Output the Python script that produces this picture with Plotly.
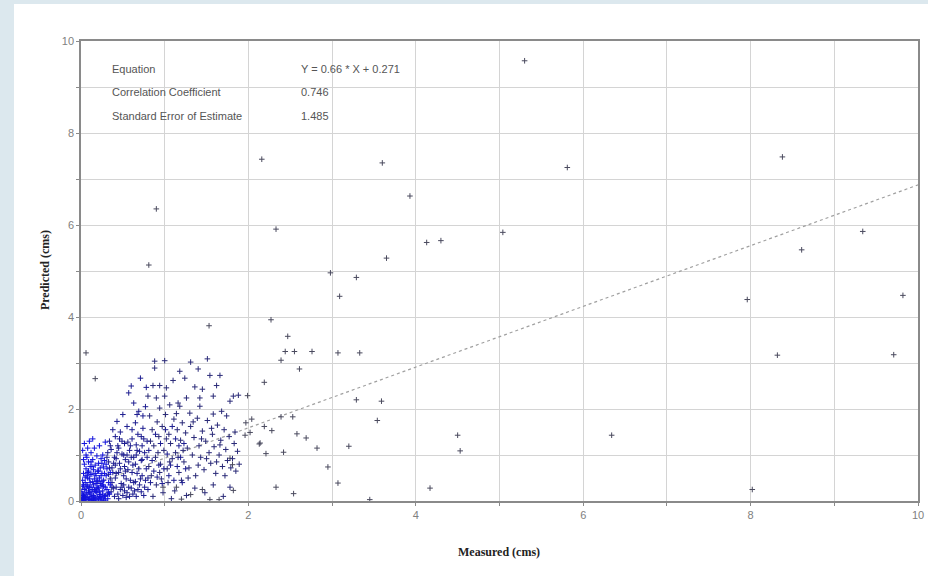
import plotly.graph_objects as go

# ---------------- data ----------------
# dense core near the origin (measured, predicted)
core_x = [0.02,0.03,0.05,0.04,0.06,0.07,0.08,0.09,0.10,0.11,0.12,0.13,0.14,0.15,0.16,0.17,0.18,0.19,0.20,0.21,0.22,0.23,0.24,0.25,0.26,0.27,0.28,0.29,0.30,
          0.02,0.03,0.04,0.05,0.06,0.07,0.08,0.09,0.10,0.11,0.12,0.13,0.14,0.15,0.16,0.17,0.18,0.19,0.20,0.21,0.22,0.23,0.24,0.25,0.26,0.27,0.28,0.29,0.30,
          0.01,0.01,0.02,0.03,0.04,0.05,0.06,0.07,0.08,0.09,0.10,0.11,0.12,0.13,0.14,0.15,0.16,0.17,0.18,0.19,0.20,0.21,0.22,0.23,0.24,0.25,0.26,0.27,0.28,0.29,0.31,0.32,0.33,0.34,0.35,
          0.02,0.03,0.04,0.06,0.08,0.10,0.12,0.14,0.05,0.07,0.09,0.11,0.13,0.15,0.17,0.19,0.21,0.23,0.25,0.27,0.29,0.31,0.33,0.35,
          0.01,0.02,0.03,0.04,0.06,0.08,0.10,0.12,0.14,0.16,0.18,0.20,0.22,0.24,0.26]
core_y = [0.05,0.12,0.02,0.25,0.18,0.35,0.08,0.22,0.04,0.15,0.30,0.06,0.42,0.12,0.25,0.05,0.38,0.18,0.09,0.28,0.50,0.14,0.33,0.06,0.22,0.45,0.10,0.30,0.55,
          0.45,0.60,0.80,0.52,0.70,0.95,0.62,0.85,0.48,0.75,1.05,0.58,0.90,0.68,1.15,0.78,0.55,0.98,0.65,0.82,1.20,0.72,0.92,0.60,1.00,0.74,0.88,1.28,0.80,
          0.02,0.20,0.32,0.02,0.10,0.40,0.04,0.15,0.50,0.03,0.30,0.58,0.10,0.20,0.02,0.35,0.48,0.22,0.02,0.42,0.30,0.04,0.20,0.38,0.08,0.42,0.15,0.02,0.60,0.12,0.25,0.05,0.40,0.15,0.62,
          1.10,0.90,1.25,1.00,1.15,1.30,0.85,1.35,0.08,0.55,0.65,0.40,0.75,0.02,0.60,0.28,0.65,0.02,0.82,0.32,0.02,0.70,0.18,0.35,
          0.08,0.15,0.35,0.05,0.28,0.32,0.18,0.02,0.25,0.08,0.20,0.45,0.10,0.55,0.35]

# spreading cluster 0.3 < measured < 1.25
mid_x = [0.32,0.33,0.34,0.35,0.36,0.37,0.38,0.39,0.40,0.41,0.42,0.43,0.44,0.45,0.46,0.47,0.48,0.49,0.50,0.51,0.52,0.53,0.54,0.55,0.56,0.57,0.58,0.59,0.60,0.61,0.62,0.63,0.64,0.65,0.66,0.67,0.68,0.69,0.70,0.71,0.72,0.73,0.74,0.75,0.76,0.77,0.78,0.79,0.80,
         0.36,0.40,0.45,0.50,0.55,0.58,0.62,0.38,0.42,0.44,0.47,0.49,0.52,0.56,0.60,0.63,0.66,0.70,0.73,0.76,0.34,0.37,0.41,0.46,0.51,0.54,0.57,0.61,0.65,0.68,0.72,0.78,0.74,0.67,
         0.31,0.33,0.35,0.37,0.39,0.41,0.43,0.45,0.47,0.49,0.51,0.53,0.55,0.57,0.59,0.61,0.63,0.65,0.67,0.69,0.71,0.73,0.75,0.77,0.79,0.81,0.83,0.85,0.87,0.89,0.91,0.93,0.95,0.97,0.99,1.01,1.03,1.05,1.07,1.09,1.11,1.13,1.15,1.17,1.19,1.21,1.23,1.25,
         0.32,0.42,0.52,0.60,0.66,0.72,0.80]
mid_y = [1.05,0.85,1.30,0.48,1.12,0.72,1.55,0.28,0.95,1.40,0.60,1.73,0.15,1.15,0.82,1.50,0.38,1.02,1.88,0.55,1.25,0.90,0.08,1.62,0.68,2.35,1.10,0.45,2.50,1.35,0.78,2.13,0.22,1.70,1.00,0.60,1.45,1.95,0.35,2.67,0.88,1.20,1.58,0.12,1.05,2.05,0.70,1.30,0.50,
         0.20,0.10,0.05,0.12,0.18,0.10,0.15,0.62,0.92,1.20,0.70,0.30,0.75,1.28,0.95,0.40,1.22,1.08,0.55,0.30,0.72,0.40,0.78,1.35,1.00,0.48,0.85,1.55,0.80,0.25,1.40,2.47,1.85,1.88,
         0.95,0.58,1.20,0.30,0.82,0.50,1.05,0.62,0.25,1.30,0.35,0.65,1.00,0.30,1.20,0.62,0.95,0.42,1.10,0.70,0.48,0.90,1.35,0.45,0.95,1.10,0.40,0.88,0.65,1.45,0.52,0.78,1.25,0.38,0.70,1.55,1.02,0.55,0.78,1.62,0.45,1.35,0.75,1.20,0.95,0.40,1.25,0.70,
         0.15,0.30,0.22,0.28,0.10,0.20,0.25]

# outer part of the cluster 0.8 < measured < 1.9
outer_x = [0.88,1.00,0.88,1.18,1.31,1.40,1.51,1.54,1.66,1.62,1.45,1.36,1.24,1.10,1.02,0.94,0.86,0.80,0.90,1.00,1.16,1.26,1.42,1.58,1.82,1.88,1.78,1.68,1.58,1.42,1.30,1.18,1.06,0.94,
           0.82,0.85,0.87,0.89,0.91,0.93,0.95,0.97,0.99,1.01,1.03,1.05,1.07,1.09,1.11,1.13,1.15,1.17,1.19,1.21,1.23,1.25,1.27,1.29,1.31,1.33,1.35,1.37,1.39,1.41,1.43,1.45,1.47,1.49,1.51,1.53,1.55,1.57,1.59,1.61,1.63,1.65,1.67,1.69,1.71,1.73,1.75,1.77,1.79,1.81,1.83,1.85,1.87,1.89,
           0.84,0.90,0.96,1.04,1.12,1.20,0.86,0.98,1.08,1.26,1.36,1.48,1.58,1.70,1.78,
           0.83,0.92,1.02,1.14,1.22,1.34,1.44,1.56,1.66,1.74,1.84,0.81,0.94,1.06,1.16,1.28,1.40,1.50,1.62,1.72]
outer_y = [3.04,3.05,2.89,2.82,3.02,2.87,3.09,2.73,2.73,2.51,2.43,2.48,2.67,2.62,2.46,2.51,2.51,2.28,2.24,2.28,2.13,2.24,2.24,2.28,2.28,2.30,2.17,1.95,1.89,2.06,1.91,2.06,2.09,2.02,
           1.85,1.55,1.20,0.95,1.72,1.40,0.80,1.62,1.10,1.88,0.70,1.45,1.25,0.92,1.78,1.05,1.55,0.62,1.32,1.70,0.85,1.48,1.15,0.72,1.62,1.00,1.38,0.55,1.80,1.20,0.95,1.52,0.68,1.30,1.75,1.05,0.82,1.45,1.18,0.60,1.65,1.00,1.32,0.75,1.55,1.12,0.88,1.40,0.72,0.92,1.25,0.65,1.08,0.80,
           0.55,0.35,0.48,0.40,0.22,0.45,0.10,0.18,0.05,0.12,0.28,0.18,0.35,0.10,0.30,
           1.30,1.05,1.35,1.90,1.10,1.72,1.35,1.58,1.22,1.85,1.50,0.75,0.62,0.85,0.95,0.50,0.78,0.92,0.85,0.55]

# scattered points
sparse_x = [5.30,8.38,5.81,4.13,4.30,5.04,9.34,8.61,7.96,9.82,8.32,9.71,4.50,4.53,6.34,4.17,8.02,
            2.16,3.60,3.93,0.90,2.33,0.81,3.65,2.98,3.29,
            3.09,1.53,2.27,2.47,2.44,2.55,2.76,3.07,3.33,2.39,2.61,0.06,0.17,2.19,3.29,3.59,3.54,3.20,2.82,2.42,2.21,2.58,2.69,2.14,2.95,3.07,2.33,2.54,3.45,1.82,1.54,1.65,1.45,1.31,1.14,0.98,1.20,1.81,1.78,
            1.99,2.39,2.53,1.97,2.04,2.19,2.28,1.96,2.02,2.13]
sparse_y = [9.57,7.48,7.25,5.62,5.66,5.84,5.86,5.46,4.38,4.47,3.17,3.18,1.43,1.09,1.43,0.28,0.25,
            7.43,7.35,6.63,6.35,5.91,5.13,5.28,4.96,4.86,
            4.45,3.81,3.94,3.58,3.25,3.25,3.25,3.22,3.22,3.06,2.87,3.22,2.66,2.58,2.20,2.17,1.75,1.19,1.15,1.06,1.03,1.46,1.37,1.26,0.74,0.39,0.30,0.16,0.03,0.23,0.03,0.03,0.25,0.14,0.30,0.30,0.04,0.79,0.93,
            2.29,1.83,1.83,1.70,1.78,1.62,1.53,1.43,1.49,1.24]

# regression statistics
slope = 0.66
intercept = 0.271
stat_labels = ["Equation", "Correlation Coefficient", "Standard Error of Estimate"]
stat_values = ["Y = 0.66 * X + 0.271", "0.746", "1.485"]

tick_vals = [0, 1, 2, 3, 4, 5, 6, 7, 8, 9, 10]
tick_text = ["0", "", "2", "", "4", "", "6", "", "8", "", "10"]

# ---------------- figure ----------------
fig = go.Figure()

line_x = [0, 10]
line_y = [intercept + slope * v for v in line_x]
fig.add_trace(go.Scatter(x=line_x, y=line_y, mode="lines",
                         line=dict(color="#a0a0a0", width=1.2, dash="dot"),
                         hoverinfo="skip", showlegend=False))

gray = "#4a4a5e"
dark = "#2a2a78"
navy = "#1e1e90"
blue = "#1212dc"
for xs, ys, col in [(sparse_x, sparse_y, gray), (outer_x, outer_y, dark),
                    (mid_x, mid_y, navy), (core_x, core_y, blue)]:
    fig.add_trace(go.Scatter(x=xs, y=ys, mode="markers", showlegend=False,
                             marker=dict(symbol="cross-thin", size=4, color=col,
                                         line=dict(color=col, width=1))))

ann = []
ys_pos = [0.939, 0.889, 0.837]
for lab, val, yp in zip(stat_labels, stat_values, ys_pos):
    ann.append(dict(x=0.0346, y=yp, xref="paper", yref="paper", text=lab, showarrow=False,
                    xanchor="left", yanchor="middle",
                    font=dict(family="Liberation Sans, Arial", size=11, color="#555555")))
    ann.append(dict(x=0.2605, y=yp, xref="paper", yref="paper", text=val, showarrow=False,
                    xanchor="left", yanchor="middle",
                    font=dict(family="Liberation Sans, Arial", size=11, color="#555555")))
ann.append(dict(x=0.4994, y=-0.111, xref="paper", yref="paper", text="<b>Measured (cms)</b>",
                showarrow=False, xanchor="center", yanchor="middle",
                font=dict(family="Liberation Serif, Times New Roman", size=12, color="#222222")))
ann.append(dict(x=-0.043, y=0.502, xref="paper", yref="paper", text="<b>Predicted (cms)</b>",
                showarrow=False, xanchor="center", yanchor="middle", textangle=-90,
                font=dict(family="Liberation Serif, Times New Roman", size=12, color="#222222")))

axis_common = dict(range=[0, 10], tickvals=tick_vals, ticktext=tick_text,
                   showgrid=True, gridcolor="#d4d4d4", gridwidth=1,
                   showline=True, linecolor="#8a8a8a", linewidth=1.5, mirror=True,
                   ticks="outside", ticklen=3, tickcolor="#8a8a8a",
                   zeroline=False, automargin=False,
                   tickfont=dict(family="Liberation Sans, Arial", size=11, color="#808080"))

fig.update_layout(
    width=928, height=576,
    margin=dict(l=81, r=10, t=41, b=75, autoexpand=False),
    paper_bgcolor="#dce8ee",
    plot_bgcolor="white",
    xaxis=axis_common,
    yaxis=axis_common,
    annotations=ann,
    shapes=[dict(type="rect", xref="paper", yref="paper",
                 x0=(14 - 81) / 837, x1=(940 - 81) / 837,
                 y0=(501 - 580) / 460, y1=(501 - 4) / 460,
                 fillcolor="white", line=dict(width=0), layer="below")],
)

fig.write_html("out.html", config={"displayModeBar": False})

# remove the default page margin so the figure sits at the window origin
with open("out.html", "r", encoding="utf-8") as f:
    html = f.read()
html = html.replace("<head>", "<head><style>html,body{margin:0;padding:0;overflow:hidden;}</style>", 1)
with open("out.html", "w", encoding="utf-8") as f:
    f.write(html)
